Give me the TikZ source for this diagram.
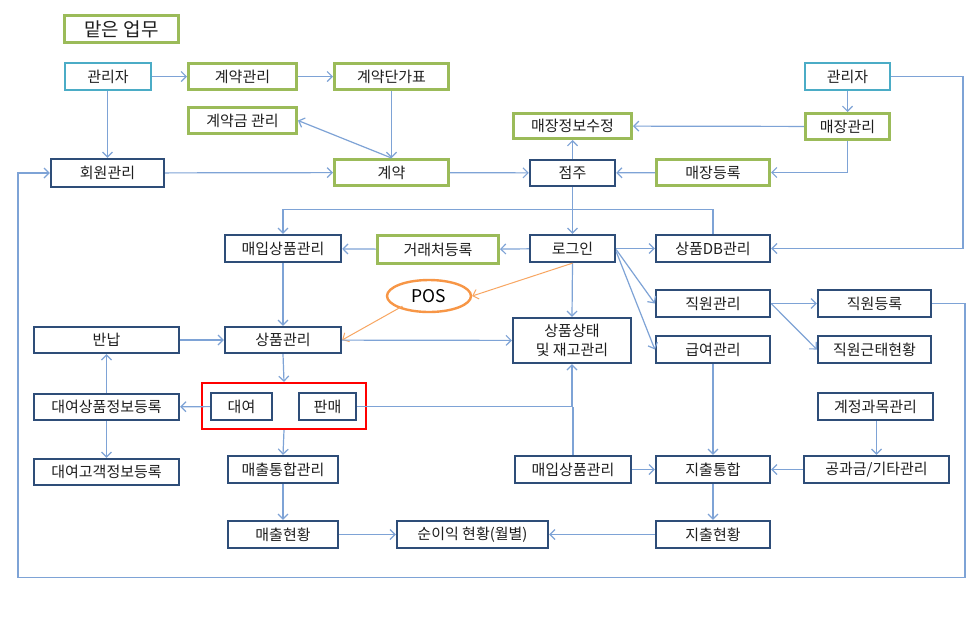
\documentclass[tikz,border=0pt]{standalone}
\usepackage{fontspec}
\setmainfont{Noto Sans CJK KR}
\usetikzlibrary{arrows.meta,shapes.geometric}
\definecolor{navy}{HTML}{2E4D78}
\definecolor{leaf}{HTML}{9BBB59}
\definecolor{teal}{HTML}{4BACC6}
\definecolor{wire}{HTML}{7EA3D6}
\definecolor{amber}{HTML}{F79646}
\begin{document}
\begin{tikzpicture}[x=1pt,y=-1pt,
  base/.style={rectangle, inner sep=0pt, font=\fontsize{15}{17}\selectfont, text=black!88, align=center, fill=white},
  sz/.style 2 args={minimum width=#1pt, minimum height=#2pt},
  dbox/.style={base, draw=navy, line width=2.3pt},
  gbox/.style={base, draw=leaf, line width=3pt},
  tbox/.style={base, draw=teal, line width=2.4pt},
  link/.style={draw=wire, line width=1.2pt, -{Straight Barb[length=5pt,width=10pt]}},
  plain/.style={draw=wire, line width=1.2pt},
  olink/.style={draw=amber!85, line width=1pt, -{Straight Barb[length=5pt,width=10pt]}}
]
\fill[white] (0,0) rectangle (979,625);
\useasboundingbox (0,0) rectangle (979,625);

% header and administrator side
\node[gbox, sz={114}{27}, font=\fontsize{19}{21}\selectfont] (title) at (121.5,29) {맡은 업무};
\node[tbox, sz={86}{27}] (adm1) at (108,76.5) {관리자};
\node[gbox, sz={108}{26}] (ctm) at (242.5,76.5) {계약관리};
\node[gbox, sz={114}{26}] (ctp) at (391.5,76.5) {계약단가표};
\node[gbox, sz={108}{26}] (ctf) at (242.5,120.5) {계약금 관리};
\node[dbox, sz={113}{28}] (mem) at (107.5,173) {회원관리};
\node[gbox, sz={114}{26}] (ct) at (391.5,172.5) {계약};
\node[dbox, sz={85}{26}] (own) at (572.5,173) {점주};
\node[gbox, sz={118}{25}] (shopedit) at (572.5,126) {매장정보수정};
\node[gbox, sz={113}{26}] (shopreg) at (713,172.5) {매장등록};
\node[tbox, sz={85}{27}] (adm2) at (847.5,76.5) {관리자};
\node[gbox, sz={84}{26}] (shopm) at (847.5,126.5) {매장관리};

% login level
\node[dbox, sz={85}{27}] (login) at (572.5,248.5) {로그인};
\node[dbox, sz={114}{27}] (pdb) at (713,248.5) {상품DB관리};
\node[gbox, sz={121}{28}] (vend) at (438,249.5) {거래처등록};
\node[dbox, sz={116}{27}] (buy1) at (283,248.5) {매입상품관리};
\node[ellipse, draw=amber, line width=2.4pt, fill=white, minimum width=84pt, minimum height=32pt, inner sep=0pt, font=\fontsize{17.5}{19}\selectfont] (pos) at (429,296) {POS};

% product level
\node[dbox, sz={145}{26}] (ret) at (106.5,340) {반납};
\node[dbox, sz={116}{26}] (prod) at (283,340) {상품관리};
\node[dbox, sz={118}{45}, font=\fontsize{15}{19}\selectfont] (stock) at (572,340.5) {상품상태\\및 재고관리};
\node[dbox, sz={114}{27}] (staff) at (713,303.5) {직원관리};
\node[dbox, sz={114}{27}] (pay) at (713,349.5) {급여관리};
\node[dbox, sz={113}{27}] (sreg) at (874.5,303.5) {직원등록};
\node[dbox, sz={113}{27}] (satt) at (874.5,349.5) {직원근태현황};
\node[dbox, sz={115}{27}] (acct) at (875.5,406.5) {계정과목관리};

% rental / sale
\node[draw=red, line width=2.2pt, rectangle, minimum width=164pt, minimum height=46pt, inner sep=0pt] (red) at (284,406) {};
\node[dbox, sz={145}{26}] (rinfo) at (106.5,407) {대여상품정보등록};
\node[dbox, sz={61}{27}] (rent) at (241.5,406.5) {대여};
\node[dbox, sz={57}{27}] (sell) at (327.5,406.5) {판매};
\node[dbox, sz={145}{26}] (rcust) at (106.5,472) {대여고객정보등록};

% totals
\node[dbox, sz={110}{27}] (salesint) at (283,469.5) {매출통합관리};
\node[dbox, sz={116}{27}] (buy2) at (573,469.5) {매입상품관리};
\node[dbox, sz={114}{27}] (expint) at (713,469.5) {지출통합};
\node[dbox, sz={145}{27}] (util) at (876.5,469.5) {공과금/기타관리};
\node[dbox, sz={110}{27}] (sales) at (283,534.5) {매출현황};
\node[dbox, sz={151}{27}] (profit) at (472.5,534.5) {순이익 현황(월별)};
\node[dbox, sz={114}{27}] (exp) at (713,534.5) {지출현황};

% connectors: administrator and contracts
\path[link] (adm1) -- (ctm);
\path[link] (ctm) -- (ctp);
\path[link] (adm1.south -| mem.north) -- (mem.north);
\path[link] (ctp) -- (ct);
\path[link] (ct.north) -- (ctf.east);
\path[link] (mem) -- (ct);
\path[link] (ct) -- (own);
\path[link] (shopreg) -- (own);
\path[link] (own) -- (shopedit);
\path[link] (shopm) -- (shopedit);
\path[link] (adm2) -- (shopm);
\path[link] (shopm.south) |- (shopreg.east);
\path[link] (adm2.east) -- (963,76.5) |- (pdb.east);

% connectors: login
\path[link] (own) -- (login);
\path[link] (login) -- (pdb);
\path[link] (login) -- (vend);
\path[link] (vend) -- (buy1);
\path[link] (pdb.north) -- ++(0,-24) -| (buy1.north);
\path[link] (login.south) -- (stock.north);
\path[link] (login.east) ++(0,1) -- (staff.west);
\path[link] (login.east) ++(0,3) -- (pay.west);
\path[olink] (login.south) -- (pos.east);
\path[olink] (pos.south west) ++(4,-2) -- (prod.east);

% connectors: products
\path[link] (buy1) -- (prod);
\path[link] (ret) -- (prod);
\path[link] (prod) -- (stock);
\path[link] (prod.south) -- (red.north);
\path[link] (rent) -- (rinfo);
\path[link] (rinfo) -- (ret);
\path[link] (rinfo) -- (rcust);
\path[link] (sell.east) -| (stock.south);
\path[plain] (buy2.north) -- (buy2.north |- sell.east);
\path[link] (red.south) -- (salesint.north);
\path[link] (salesint) -- (sales);
\path[link] (sales) -- (profit);
\path[link] (exp) -- (profit);

% connectors: staff and expenses
\path[link] (staff) -- (sreg);
\path[link] (staff.east) -- (satt.west);
\path[link] (pay) -- (expint);
\path[link] (expint) -- (exp);
\path[link] (buy2) -- (expint);
\path[link] (util) -- (expint);
\path[link] (acct.south -| util.north) -- (util.north);
\path[link] (sreg.east) -- (965,303.5) -- (965,577.5) -- (18,577.5) |- (mem.west);
\end{tikzpicture}
\end{document}
